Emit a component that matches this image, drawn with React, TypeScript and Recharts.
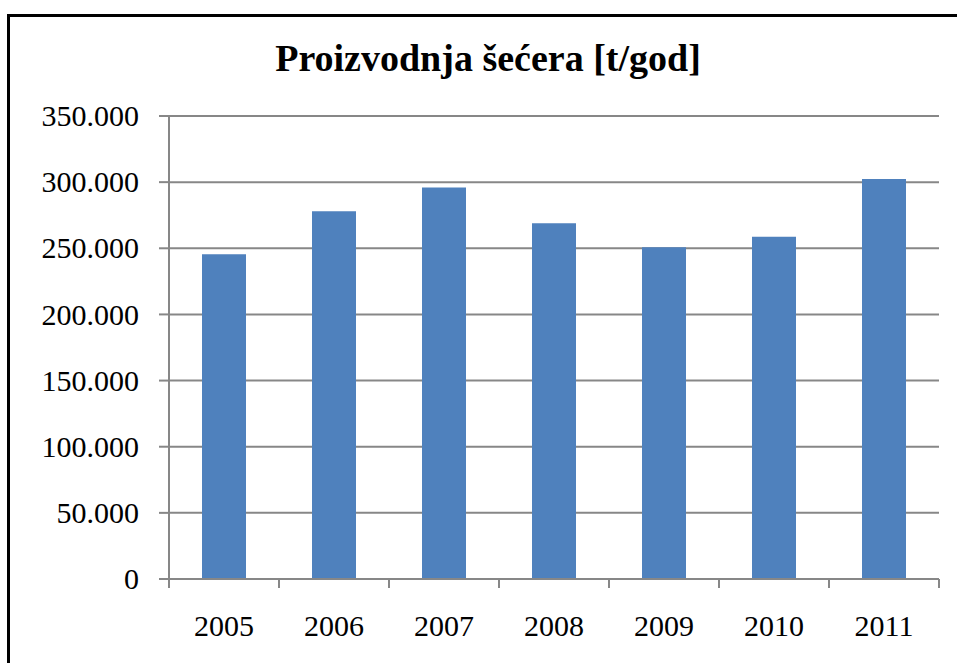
import { Bar, BarChart, CartesianGrid, XAxis, YAxis } from "recharts";

const years = ["2005", "2006", "2007", "2008", "2009", "2010", "2011"];
const production = [245500, 278000, 296000, 269000, 250800, 258800, 302400];
const yTicks = [0, 50000, 100000, 150000, 200000, 250000, 300000, 350000];

const data = years.map((year, i) => ({ year, value: production[i] }));

const AXIS_GRAY = "#878787";
const FONT = "Liberation Serif, Times New Roman, Tinos, DejaVu Serif, serif";

const formatThousands = (v: number) =>
  String(v).replace(/\B(?=(\d{3})+(?!\d))/g, ".");

// x tick: label in the middle, tick marks on the category boundaries
function YearTick(props: any) {
  const { x, y, payload, index } = props;
  const off = payload && payload.offset ? payload.offset : 55;
  return (
    <g>
      <line x1={x - off} x2={x - off} y1={y} y2={y + 9} stroke={AXIS_GRAY} strokeWidth={2} />
      {index === years.length - 1 && (
        <line x1={x + off} x2={x + off} y1={y} y2={y + 9} stroke={AXIS_GRAY} strokeWidth={2} />
      )}
      <text x={x} y={y + 57} textAnchor="middle" fill="#000" fontSize={30} style={{ fontFamily: FONT }}>
        {payload.value}
      </text>
    </g>
  );
}

function YValueTick(props: any) {
  const { x, y, payload } = props;
  return (
    <text x={x} y={y} dy="0.34em" textAnchor="end" fill="#000" fontSize={30} style={{ fontFamily: FONT }}>
      {formatThousands(payload.value)}
    </text>
  );
}

/**
 * Sugar production bar chart.
 */
export default function App() {
  return (
    <div style={{ position: "absolute", left: 0, top: 0, width: 957, height: 663, background: "#fff", overflow: "hidden", fontFamily: FONT }}>
      <div
        style={{
          position: "absolute",
          left: 7,
          top: 14,
          width: 957,
          height: 663,
          borderTop: "3px solid #000",
          borderLeft: "3px solid #000"
        }}
      />
      <svg width={957} height={663} style={{ position: "absolute", left: 0, top: 0 }}>
        <text x={488} y={71} textAnchor="middle" fontSize={38} fontWeight="bold" fill="#000" style={{ fontFamily: FONT }}>
          Proizvodnja šećera [t/god]
        </text>
      </svg>
      <div style={{ position: "absolute", left: 0, top: 0 }}>
        <BarChart
          width={957}
          height={663}
          data={data}
          margin={{ top: 116, right: 18, bottom: 0, left: 0 }}
          barCategoryGap="30%"
        >
          <CartesianGrid vertical={false} stroke={AXIS_GRAY} strokeWidth={2} />
          <XAxis
            dataKey="year"
            height={84}
            tickSize={0}
            tickMargin={0}
            tickLine={false}
            axisLine={{ stroke: AXIS_GRAY, strokeWidth: 2 }}
            tick={<YearTick />}
            interval={0}
          />
          <YAxis
            width={169}
            domain={[0, 350000]}
            ticks={yTicks}
            tickSize={10}
            tickMargin={20}
            axisLine={{ stroke: AXIS_GRAY, strokeWidth: 2 }}
            tickLine={{ stroke: AXIS_GRAY, strokeWidth: 2 }}
            tick={<YValueTick />}
            interval={0}
          />
          <Bar dataKey="value" fill="#4F81BD" isAnimationActive={false} />
        </BarChart>
      </div>
    </div>
  );
}
